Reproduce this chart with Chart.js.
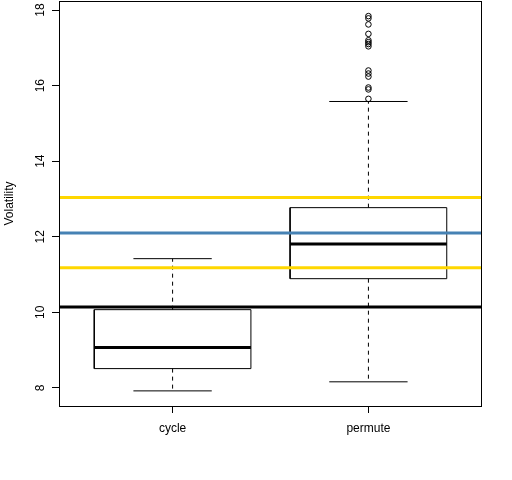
<!DOCTYPE html>
<html>
<head>
<meta charset="utf-8">
<script src="https://cdn.jsdelivr.net/npm/chart.js@4"></script>
<style>
  body { margin: 0; background: #fff; }
  #wrap { width: 512px; height: 480px; }
</style>
</head>
<body>
<div id="wrap"><canvas id="chart" width="512" height="480"></canvas></div>
<script>
// boxplot stats
const groups = ['cycle', 'permute'];
const whiskerLow = [7.92, 8.16];
const lowerQuartile = [8.51, 10.89];
const medians = [9.07, 11.81];
const upperQuartile = [10.07, 12.77];
const whiskerHigh = [11.42, 15.58];
const permuteOutliers = [17.84, 17.78, 17.62, 17.37, 17.20, 17.15, 17.10, 17.04,
                         16.40, 16.32, 16.24, 15.95, 15.90, 15.65];
// horizontal reference lines
const upperBand = 13.04;
const centreLine = 12.10;
const lowerBand = 11.18;
const baseLine = 10.14;
const yTicks = [8, 10, 12, 14, 16, 18];

const boxHalf = 0.4, capHalf = 0.2;
const xMin = 0.42, xMax = 2.58;

function hline(v, color, width) {
  return {
    data: [{x: xMin, y: v}, {x: xMax, y: v}],
    showLine: true, borderColor: color, borderWidth: width,
    pointRadius: 0, fill: false
  };
}
function seg(x1, y1, x2, y2, width, dash) {
  return {
    data: [{x: x1, y: y1}, {x: x2, y: y2}],
    showLine: true, borderColor: '#000', borderWidth: width,
    borderDash: dash || [], pointRadius: 0, fill: false
  };
}

const datasets = [
  hline(upperBand, '#FFD700', 3),
  hline(centreLine, '#4682B4', 3),
  hline(lowerBand, '#FFD700', 3),
  hline(baseLine, '#000000', 3)
];

groups.forEach((g, i) => {
  const c = i + 1;
  datasets.push({
    data: [
      {x: c - boxHalf, y: lowerQuartile[i]}, {x: c + boxHalf, y: lowerQuartile[i]},
      {x: c + boxHalf, y: upperQuartile[i]}, {x: c - boxHalf, y: upperQuartile[i]},
      {x: c - boxHalf, y: lowerQuartile[i]}
    ],
    showLine: true, borderColor: '#000', borderWidth: 1, pointRadius: 0, fill: false
  });
  datasets.push(seg(c - boxHalf, medians[i], c + boxHalf, medians[i], 3));
  datasets.push(seg(c, upperQuartile[i], c, whiskerHigh[i], 1, [4, 4]));
  datasets.push(seg(c, lowerQuartile[i], c, whiskerLow[i], 1, [4, 4]));
  datasets.push(seg(c - capHalf, whiskerHigh[i], c + capHalf, whiskerHigh[i], 1));
  datasets.push(seg(c - capHalf, whiskerLow[i], c + capHalf, whiskerLow[i], 1));
});

datasets.push({
  data: permuteOutliers.map(v => ({x: 2, y: v})),
  showLine: false, pointStyle: 'circle', pointRadius: 2.8,
  pointBorderColor: '#000', pointBackgroundColor: 'rgba(0,0,0,0)', pointBorderWidth: 1
});

const frame = {
  id: 'frame',
  afterDraw(chart) {
    const a = chart.chartArea, ctx = chart.ctx;
    ctx.save();
    ctx.strokeStyle = '#000';
    ctx.lineWidth = 1;
    ctx.strokeRect(Math.round(a.left) + 0.5, Math.round(a.top) + 0.5,
                   Math.round(a.right - a.left) - 1, Math.round(a.bottom - a.top));
    ctx.restore();
  }
};

// no label overhang padding: the plot box is fixed like in R
const noPad = () => ({left: 0, top: 0, right: 0, bottom: 0});

Chart.defaults.font.family = '"Liberation Sans", Arial, sans-serif';
Chart.defaults.font.size = 12;
Chart.defaults.color = '#000';

new Chart(document.getElementById('chart'), {
  type: 'scatter',
  data: {datasets},
  options: {
    responsive: false,
    animation: false,
    devicePixelRatio: 1,
    layout: {autoPadding: false, padding: {top: 1, right: 30, left: 0, bottom: 0}},
    plugins: {legend: {display: false}, tooltip: {enabled: false}},
    scales: {
      x: {
        type: 'linear', min: xMin, max: xMax,
        afterFit: s => { s.height = 74; s.paddingLeft = 0; s.paddingRight = 0; s.getPadding = noPad; },
        afterBuildTicks: s => { s.ticks = groups.map((g, i) => ({value: i + 1})); },
        ticks: {
          autoSkip: false, padding: 8, maxRotation: 0,
          callback: v => groups[Math.round(v) - 1]
        },
        grid: {drawOnChartArea: false, drawTicks: true, tickLength: 7, color: '#000'},
        border: {display: false}
      },
      y: {
        type: 'linear', min: 7.52, max: 18.24,
        afterFit: s => { s.width = 59; s.paddingTop = 0; s.paddingBottom = 0; s.getPadding = noPad; },
        afterBuildTicks: s => { s.ticks = yTicks.map(v => ({value: v})); },
        ticks: {
          autoSkip: false, minRotation: 90, maxRotation: 90,
          crossAlign: 'center', padding: 5
        },
        grid: {drawOnChartArea: false, drawTicks: true, tickLength: 7, color: '#000'},
        border: {display: false},
        title: {display: true, text: 'Volatility', padding: {top: 2, bottom: 0}}
      }
    }
  },
  plugins: [frame]
});
</script>
</body>
</html>
